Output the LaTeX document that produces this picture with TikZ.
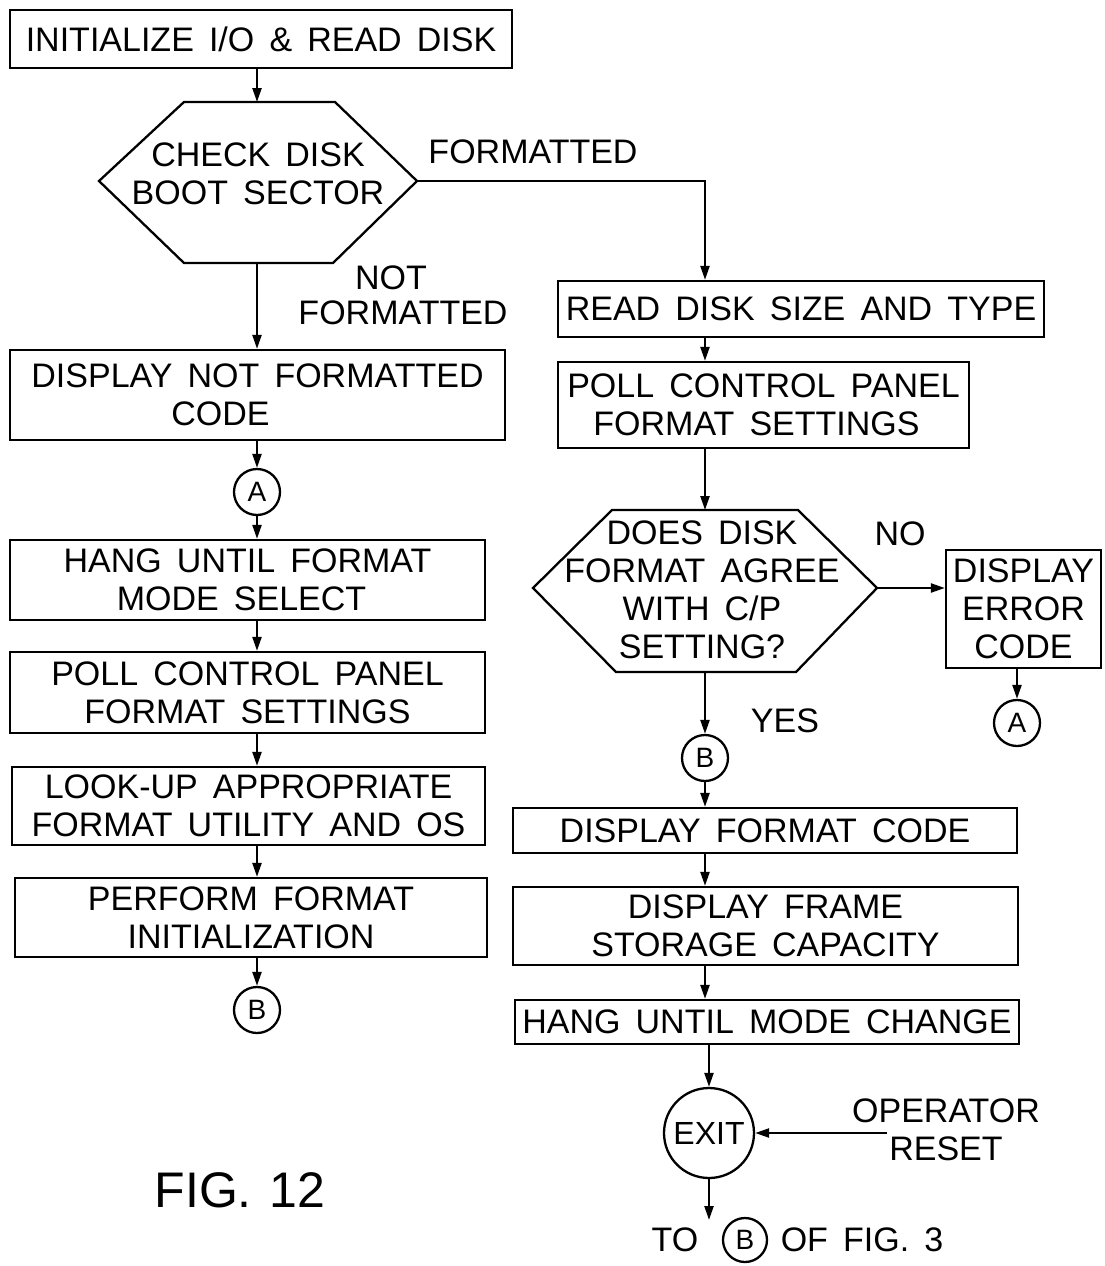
\documentclass[tikz,border=0pt]{standalone}
\usepackage{fontspec}
\setmainfont{Liberation Sans}[WordSpace=1.6]
\usetikzlibrary{arrows.meta}
\begin{document}
\begin{tikzpicture}[x=1pt,y=-1pt,
  every node/.style={font=\fontsize{34}{38}\selectfont},
  box/.style={draw, line width=2.3pt, rectangle, inner sep=0pt, align=center},
  conn/.style={draw, circle, line width=2.3pt, minimum size=46pt, inner sep=0pt, font=\fontsize{28}{30}\selectfont},
  arr/.style={line width=2.3pt, -{Triangle[length=14pt,width=9pt]}},
  hexa/.style={draw, line width=2.3pt, line join=miter},
  lbl/.style={align=center, inner sep=0pt}]
\useasboundingbox (0,0) rectangle (1105,1266);

% axes
\coordinate (laxis) at (257,0);
\coordinate (raxis) at (705,0);

% ---------- left column ----------
\node[box, minimum width=502pt, minimum height=58pt] (init) at (261,39) {INITIALIZE I/O \& READ DISK};

\coordinate (h1a) at (184,102);
\coordinate (h1b) at (335,102);
\coordinate (h1r) at (417,181);
\coordinate (h1c) at (333,263);
\coordinate (h1d) at (184,263);
\coordinate (h1l) at (99,181);
\coordinate (h1top) at (257,102);
\coordinate (h1bot) at (257,263);
\draw[hexa] (h1a) -- (h1b) -- (h1r) -- (h1c) -- (h1d) -- (h1l) -- cycle;
\node[lbl] (h1text) at (258,174) {CHECK DISK\\BOOT SECTOR};

\node[box, minimum width=495pt, minimum height=90pt] (nf) at (257.5,395) {DISPLAY NOT FORMATTED\\CODE\hspace*{74pt}};
\node[conn] (cA1) at (257,492) {A};
\node[box, minimum width=475pt, minimum height=80pt] (hang1) at (247.5,580) {HANG UNTIL FORMAT\\MODE SELECT\hspace*{12pt}};
\node[box, minimum width=475pt, minimum height=81pt] (poll1) at (247.5,692.5) {POLL CONTROL PANEL\\FORMAT SETTINGS};
\node[box, minimum width=473pt, minimum height=78pt] (look) at (248.5,806) {LOOK-UP APPROPRIATE\\FORMAT UTILITY AND OS};
\node[box, minimum width=472pt, minimum height=79pt] (perf) at (251,917.5) {PERFORM FORMAT\\INITIALIZATION};
\node[conn] (cB1) at (257,1010) {B};

\node[lbl, font=\fontsize{50}{54}\selectfont] (fig) at (240,1190) {FIG.\hspace{18pt}12};

% labels
\node[lbl] (lfmt) at (533,152) {FORMATTED};
\node[lbl] (lnot) at (391,278) {NOT};
\node[lbl] (lnf) at (403,313) {FORMATTED};

% ---------- right column ----------
\node[box, minimum width=486pt, minimum height=56pt] (rd) at (801,309) {READ DISK SIZE AND TYPE};
\node[box, minimum width=411pt, minimum height=86pt] (poll2) at (763.5,405) {POLL CONTROL PANEL\\FORMAT SETTINGS\hspace*{14pt}};

\coordinate (h2a) at (612,510);
\coordinate (h2b) at (798,510);
\coordinate (h2r) at (877,588);
\coordinate (h2c) at (796,672);
\coordinate (h2d) at (616,672);
\coordinate (h2l) at (533,588);
\coordinate (h2top) at (705,510);
\coordinate (h2bot) at (705,672);
\draw[hexa] (h2a) -- (h2b) -- (h2r) -- (h2c) -- (h2d) -- (h2l) -- cycle;
\node[lbl] (h2text) at (702,590) {DOES DISK\\FORMAT AGREE\\WITH C/P\\SETTING?};

\node[box, minimum width=155pt, minimum height=118pt] (err) at (1023.5,609) {DISPLAY\\ERROR\\CODE};
\node[conn] (cA2) at (1017,723) {A};
\node[lbl] (lno) at (900,534) {NO};
\node[lbl] (lyes) at (785,721) {YES};
\node[conn] (cB2) at (705,758) {B};

\node[box, minimum width=504pt, minimum height=45pt] (dfc) at (765,830.5) {DISPLAY FORMAT CODE};
\node[box, minimum width=505pt, minimum height=78pt] (dfs) at (765.5,926) {DISPLAY FRAME\\STORAGE CAPACITY};
\node[box, minimum width=504pt, minimum height=44pt] (hum) at (767,1022) {HANG UNTIL MODE CHANGE};

\node[draw, circle, line width=2.3pt, minimum size=90pt, inner sep=0pt, font=\fontsize{32}{34}\selectfont] (exit) at (709,1133) {EXIT};
\node[lbl] (opr) at (946,1130) {OPERATOR\\RESET};
\coordinate (oprline) at (887,1133);
\coordinate (exend) at (709,1220);

\node[lbl] (to) at (675,1240) {TO};
\node[conn, minimum size=44pt] (tob) at (745,1240) {B};
\node[lbl] (offig) at (862,1240) {OF FIG. 3};

% ---------- connectors ----------
\draw[arr] (init.south -| h1top) -- (h1top);
\draw[arr] (h1r) -| (rd.north -| raxis);
\draw[arr] (h1bot) -- (nf.north -| h1bot);
\draw[arr] (nf.south -| cA1) -- (cA1.north);
\draw[arr] (cA1.south) -- (hang1.north -| cA1);
\draw[arr] (hang1.south -| laxis) -- (poll1.north -| laxis);
\draw[arr] (poll1.south -| laxis) -- (look.north -| laxis);
\draw[arr] (look.south -| laxis) -- (perf.north -| laxis);
\draw[arr] (perf.south -| cB1) -- (cB1.north);

\draw[arr] (rd.south -| raxis) -- (poll2.north -| raxis);
\draw[arr] (poll2.south -| raxis) -- (h2top);
\draw[arr] (h2r) -- (err.west |- h2r);
\draw[arr] (err.south -| cA2) -- (cA2.north);
\draw[arr] (h2bot) -- (cB2.north);
\draw[arr] (cB2.south) -- (dfc.north -| cB2);
\draw[arr] (dfc.south -| raxis) -- (dfs.north -| raxis);
\draw[arr] (dfs.south -| raxis) -- (hum.north -| raxis);
\draw[arr] (hum.south -| exit) -- (exit.north);
\draw[arr] (oprline) -- (exit.east);
\draw[arr] (exit.south) -- (exend);
\end{tikzpicture}
\end{document}
